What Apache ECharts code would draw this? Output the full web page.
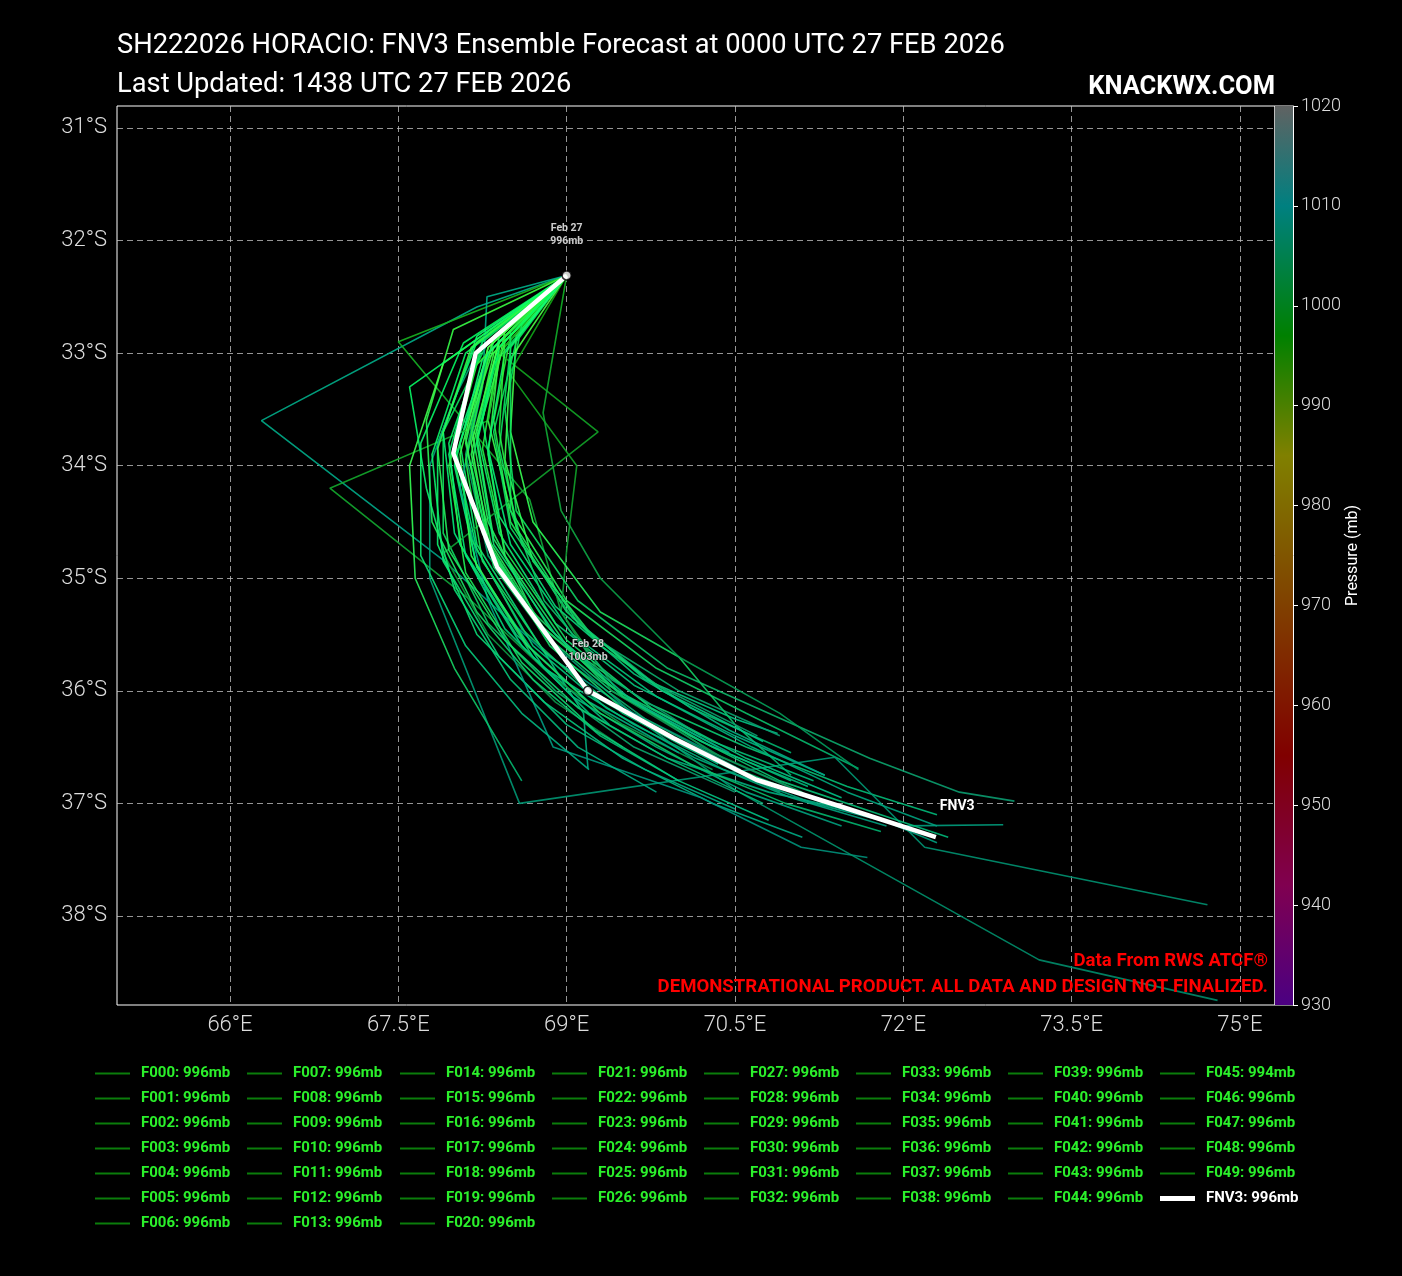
<!DOCTYPE html>
<html>
<head>
<meta charset="utf-8">
<script src="https://cdn.jsdelivr.net/npm/echarts@6/dist/echarts.min.js"></script>
<style>
html,body{margin:0;padding:0;background:#000;}
#c{width:1402px;height:1276px;}
</style>
</head>
<body>
<div id="c"></div>
<script>
// ---------------- DATA ----------------
const titleLine1 = 'SH222026 HORACIO: FNV3 Ensemble Forecast at 0000 UTC 27 FEB 2026';
const titleLine2 = 'Last Updated: 1438 UTC 27 FEB 2026';
const siteText = 'KNACKWX.COM';
const sourceText = 'Data From RWS ATCF®';
const disclaimerText = 'DEMONSTRATIONAL PRODUCT. ALL DATA AND DESIGN NOT FINALIZED.';

const lonTicks = [66, 67.5, 69, 70.5, 72, 73.5, 75];
const latTicks = [-31, -32, -33, -34, -35, -36, -37, -38];
const lonRange = [64.993, 75.312];
const latRange = [-38.791, -30.805];
const pressureRange = [930, 1020];
const pressureStep = 10;

const members = ['F000','F001','F002','F003','F004','F005','F006','F007','F008','F009',
  'F010','F011','F012','F013','F014','F015','F016','F017','F018','F019',
  'F020','F021','F022','F023','F024','F025','F026','F027','F028','F029',
  'F030','F031','F032','F033','F034','F035','F036','F037','F038','F039',
  'F040','F041','F042','F043','F044','F045','F046','F047','F048','F049'];
const memberMinPressure = [996,996,996,996,996,996,996,996,996,996,
  996,996,996,996,996,996,996,996,996,996,
  996,996,996,996,996,996,996,996,996,996,
  996,996,996,996,996,996,996,996,996,996,
  996,996,996,996,996,994,996,996,996,996];

// [lon (E), lat (negative = S)]
const tracks = [
  [[69.0,-32.31],[68.3,-32.95],[68.1,-33.8],[68.3,-34.7],[68.8,-35.5],[69.4,-36.0],[70.2,-36.45],[71.0,-36.8]],
  [[69.0,-32.31],[68.4,-32.9],[68.2,-33.7],[68.4,-34.6],[68.9,-35.4],[69.6,-35.95],[70.5,-36.4],[71.3,-36.75]],
  [[69.0,-32.31],[68.2,-32.59],[66.28,-33.6],[67.9,-34.84],[68.85,-35.7],[69.6,-36.2],[70.4,-36.6]],
  [[69.0,-32.31],[68.2,-33.0],[67.95,-33.9],[68.1,-34.8],[68.6,-35.6],[69.2,-36.2],[69.9,-36.6],[70.8,-36.9],[71.7,-37.1],[72.3,-37.35]],
  [[69.0,-32.31],[68.5,-32.85],[68.35,-33.6],[68.5,-34.5],[69.0,-35.3],[69.7,-35.9],[70.5,-36.25],[70.88,-36.38]],
  [[69.0,-32.31],[67.5,-32.9],[68.67,-34.3],[68.95,-35.3],[69.45,-36.0],[70.3,-36.55],[71.1,-36.9]],
  [[69.0,-32.31],[68.3,-33.0],[68.0,-33.95],[68.2,-34.9],[68.7,-35.7],[69.38,-36.3]],
  [[69.0,-32.31],[68.35,-32.9],[68.05,-33.8],[68.2,-34.7],[68.7,-35.5],[69.15,-36.2],[69.19,-36.69]],
  [[69.0,-32.31],[68.45,-32.8],[68.3,-33.6],[68.5,-34.4],[69.0,-35.2],[69.8,-35.8],[70.6,-36.2],[71.6,-36.69]],
  [[69.0,-32.31],[68.25,-33.05],[68.0,-34.0],[68.2,-34.9],[68.8,-35.8],[69.6,-36.3],[70.4,-36.7],[71.2,-37.0],[72.0,-37.2],[72.89,-37.19]],
  [[69.0,-32.31],[68.4,-33.0],[68.3,-33.6],[66.89,-34.2],[68.15,-35.2],[68.9,-35.9],[69.5,-36.3],[70.3,-36.7]],
  [[69.0,-32.31],[68.3,-32.9],[67.9,-33.7],[67.9,-34.6],[68.3,-35.4],[68.9,-36.0],[69.6,-36.5],[70.5,-36.9]],
  [[69.0,-32.31],[68.4,-33.0],[68.3,-33.9],[68.45,-34.8],[69.0,-35.6],[69.7,-36.1],[70.6,-36.5],[71.5,-36.85],[72.3,-37.1]],
  [[69.0,-32.31],[68.2,-32.9],[67.85,-33.8],[67.85,-34.7],[68.2,-35.5],[68.8,-36.1],[69.5,-36.6],[70.3,-37.0],[71.1,-37.3]],
  [[69.0,-32.31],[68.4,-33.0],[69.28,-33.7],[67.9,-34.78],[68.3,-35.5],[68.9,-36.1],[69.5,-36.5]],
  [[69.0,-32.31],[68.49,-33.18],[69.09,-34.0],[69.0,-34.75],[68.95,-35.3],[69.4,-36.0],[70.4,-36.6],[71.2,-36.95]],
  [[69.0,-32.31],[68.3,-32.8],[68.0,-33.4],[67.78,-34.0],[67.78,-35.0],[68.58,-37.0],[71.39,-36.59],[72.19,-37.39],[74.71,-37.9]],
  [[69.0,-32.31],[68.5,-32.95],[68.4,-33.85],[68.6,-34.7],[69.2,-35.5],[70.0,-36.0],[70.9,-36.4]],
  [[69.0,-32.31],[68.35,-32.85],[68.15,-33.65],[68.3,-34.5],[68.7,-35.3],[69.3,-35.9],[70.1,-36.4],[70.9,-36.8],[71.8,-37.1],[72.4,-37.3]],
  [[69.0,-32.31],[68.1,-33.0],[67.8,-33.9],[67.9,-34.85],[68.4,-35.7],[69.0,-36.3],[69.7,-36.7],[70.5,-37.05]],
  [[69.0,-32.31],[68.55,-32.85],[68.5,-33.7],[68.7,-34.5],[69.3,-35.3],[70.0,-35.7],[70.5,-36.3],[71.0,-36.75]],
  [[69.0,-32.31],[68.29,-32.5],[68.25,-33.3],[68.05,-34.2],[68.3,-35.2],[68.88,-36.5],[70.2,-36.95],[71.09,-37.39],[71.68,-37.48]],
  [[69.0,-32.31],[68.3,-33.0],[68.1,-33.9],[68.3,-34.8],[68.9,-35.6],[69.7,-36.3],[70.5,-36.88],[73.21,-38.39],[74.8,-38.75]],
  [[69.0,-32.31],[68.6,-32.75],[68.45,-33.5],[68.55,-34.4],[69.1,-35.2],[69.9,-35.8],[70.8,-36.2],[71.7,-36.6],[72.5,-36.9],[72.99,-36.98]],
  [[69.0,-32.31],[67.99,-32.79],[67.75,-33.6],[67.8,-34.5],[68.2,-35.3],[68.7,-35.9],[69.3,-36.4],[70.0,-36.8]],
  [[69.0,-32.31],[68.08,-32.91],[67.7,-33.8],[67.7,-34.8],[68.1,-35.6],[68.6,-36.2],[69.2,-36.7]],
  [[69.0,-32.31],[67.9,-33.09],[67.6,-34.0],[67.65,-35.0],[68.0,-35.8],[68.6,-36.8]],
  [[69.0,-32.31],[68.79,-33.53],[68.95,-34.4],[69.3,-35.0],[70.0,-35.7],[70.9,-36.2],[71.6,-36.7]],
  [[69.0,-32.31],[68.4,-32.95],[68.25,-33.85],[68.45,-34.75],[69.0,-35.55],[69.75,-36.15],[70.6,-36.6],[71.45,-36.95]],
  [[69.0,-32.31],[68.35,-33.1],[68.15,-34.0],[68.35,-34.9],[68.95,-35.7],[69.7,-36.25],[70.55,-36.7]],
  [[69.0,-32.31],[68.45,-32.9],[68.2,-33.75],[68.35,-34.65],[68.85,-35.45],[69.5,-36.05],[70.3,-36.5],[71.15,-36.85]],
  [[69.0,-32.31],[68.25,-32.95],[67.95,-33.8],[68.05,-34.7],[68.55,-35.5],[69.2,-36.1],[70.0,-36.55]],
  [[69.0,-32.31],[68.5,-33.05],[68.45,-33.95],[68.7,-34.85],[69.3,-35.6],[70.1,-36.15],[71.0,-36.55]],
  [[69.0,-32.31],[68.2,-32.85],[67.9,-33.7],[68.0,-34.6],[68.45,-35.45],[69.05,-36.05],[69.8,-36.5],[70.6,-36.9],[71.45,-37.2]],
  [[69.0,-32.31],[68.3,-33.05],[68.1,-33.95],[68.25,-34.85],[68.8,-35.65],[69.5,-36.2],[70.35,-36.65]],
  [[69.0,-32.31],[68.55,-32.9],[68.35,-33.7],[68.5,-34.55],[69.05,-35.35],[69.8,-35.95],[70.7,-36.4]],
  [[69.0,-32.31],[68.15,-32.95],[67.85,-33.85],[67.95,-34.75],[68.45,-35.55],[69.1,-36.15],[69.9,-36.6],[70.75,-37.0]],
  [[69.0,-32.31],[68.4,-32.85],[68.25,-33.6],[68.4,-34.45],[68.9,-35.25],[69.6,-35.85],[70.45,-36.35],[71.3,-36.75]],
  [[69.0,-32.31],[68.3,-32.95],[68.05,-33.9],[68.15,-34.8],[68.65,-35.6],[69.3,-36.2],[70.1,-36.65],[70.95,-37.0],[71.8,-37.25]],
  [[69.0,-32.31],[68.45,-33.0],[68.3,-33.85],[68.5,-34.7],[69.05,-35.5],[69.8,-36.05],[70.65,-36.5],[71.5,-36.9],[72.3,-37.2]],
  [[69.0,-32.31],[68.2,-33.1],[67.95,-34.0],[68.1,-34.95],[68.6,-35.75],[69.25,-36.35],[70.0,-36.8],[70.8,-37.15]],
  [[69.0,-32.31],[68.5,-32.8],[68.5,-33.6],[68.5,-34.4],[68.8,-35.2],[69.4,-35.9],[70.2,-36.4]],
  [[69.0,-32.31],[68.35,-32.95],[68.1,-33.75],[68.25,-34.6],[68.75,-35.4],[69.45,-36.0],[70.3,-36.45],[71.2,-36.8]],
  [[69.0,-32.31],[67.6,-33.3],[67.75,-34.2],[68.0,-35.1],[68.5,-35.9],[69.1,-36.5],[69.8,-36.9]],
  [[69.0,-32.31],[68.4,-32.9],[68.15,-33.8],[68.3,-34.65],[68.8,-35.45],[69.5,-36.05],[70.35,-36.5]],
  [[69.0,-32.31],[68.3,-33.0],[68.0,-33.85],[68.2,-34.75],[68.7,-35.6],[69.35,-36.15],[70.15,-36.6],[71.0,-36.95],[71.85,-37.2]],
  [[69.0,-32.31],[68.45,-32.85],[68.4,-33.7],[68.55,-34.55],[69.1,-35.4],[69.85,-36.0],[70.75,-36.45]],
  [[69.0,-32.31],[68.25,-32.9],[68.0,-33.75],[68.15,-34.65],[68.6,-35.45],[69.25,-36.05],[70.05,-36.5],[70.9,-36.9]],
  [[69.0,-32.31],[68.35,-33.0],[68.15,-33.9],[68.35,-34.8],[68.85,-35.6],[69.55,-36.2],[70.4,-36.65],[71.3,-37.0],[72.15,-37.25]],
  [[69.0,-32.31],[68.4,-32.95],[68.2,-33.8],[68.35,-34.7],[68.9,-35.5],[69.6,-36.1],[70.45,-36.55]]
];

const fnv3Name = 'FNV3';
const fnv3MinPressure = 996;
const fnv3Track = [[69.0,-32.31],[68.19,-33.0],[67.99,-33.89],[68.38,-34.9],[69.19,-36.0],[69.95,-36.42],[70.69,-36.79],[71.45,-37.03],[72.29,-37.3]];

const dayPoints = [[69.0,-32.31],[69.19,-36.0]];
const dayNames = ['Feb 27','Feb 28'];
const dayPressures = [996, 1003];

// ---------------- STYLE ----------------
const FONT = "Roboto,'Liberation Sans',sans-serif";
const bundlePalette = [
  ['#3dff3d','#22f060','#00b87a'],
  ['#00ff5a','#10ee70','#00a884'],
  ['#55ff44','#30ff55','#00b070'],
  ['#1aff70','#00e878','#009e7e'],
  ['#2ef02e','#20f050','#00c088'],
  ['#00e85c','#10e060','#0a9a70']
];
const outlierPalette = {
  2:['#00b38a','#00a888','#00907a'], 5:['#1ab81a','#10a838','#0a9a50'], 10:['#18b018','#12a830','#0a9a55'],
  14:['#13a813','#10a030','#0a9050'], 15:['#10a810','#10a030','#0a9060'], 16:['#00a878','#00a078','#009070'],
  21:['#00b08a','#00a888','#00907a'], 22:['#00c060','#00a070','#008a6a'], 27:['#10b020','#10a840','#009a60']
};
const colorbarStops = [
  [1020,'#606262'],[1010,'#008080'],[997,'#008000'],[985,'#808000'],
  [970,'#804000'],[955,'#800000'],[942,'#800050'],[930,'#4b0082']
];
const legendColumnLefts = [95, 247, 400, 552, 704, 856, 1008, 1160];
const legendColumnSizes = [7, 7, 7, 6, 6, 6, 6, 6];

// ---------------- CHART ----------------
const chart = echarts.init(document.getElementById('c'), null, {renderer: 'canvas', width: 1402, height: 1276});
const LG = echarts.graphic.LinearGradient;

const series = [];
const memberNames = members.map((m, i) => m + ': ' + memberMinPressure[i] + 'mb');
tracks.forEach((tr, i) => {
  const pal = outlierPalette[i] || bundlePalette[i % bundlePalette.length];
  series.push({
    type: 'line', name: memberNames[i], data: tr, xAxisIndex: 0, yAxisIndex: 0,
    symbol: 'none', silent: true, z: 2,
    lineStyle: {width: 1.6, opacity: 0.9,
      color: new LG(0, 0, 0, 1, [{offset: 0, color: pal[0]}, {offset: 0.5, color: pal[1]}, {offset: 1, color: pal[2]}])}
  });
});
const fnv3Label = fnv3Name + ': ' + fnv3MinPressure + 'mb';
series.push({
  type: 'line', name: fnv3Label, data: fnv3Track, xAxisIndex: 0, yAxisIndex: 0,
  symbol: 'none', z: 5, silent: true,
  lineStyle: {width: 4.5, color: '#ffffff'}, itemStyle: {color: '#ffffff'},
  endLabel: {show: true, formatter: fnv3Name, color: '#fff', fontFamily: FONT, fontSize: 14,
    fontWeight: 'bold', offset: [-4, -31], textBorderColor: '#000', textBorderWidth: 1.5}
});
series.push({
  type: 'scatter', name: 'days', xAxisIndex: 0, yAxisIndex: 0, z: 6, silent: true,
  data: dayPoints.map((p, i) => ({value: p, label: {formatter: dayNames[i] + '\n' + dayPressures[i] + 'mb'}})),
  symbol: 'circle', symbolSize: 9,
  itemStyle: {color: '#fff', borderColor: '#000', borderWidth: 1.5},
  label: {show: true, position: 'top', distance: 22, color: '#fff', fontFamily: FONT, fontSize: 10.5,
    fontWeight: 'bold', lineHeight: 13, textBorderColor: '#000', textBorderWidth: 1}
});
// colorbar
const span = pressureRange[1] - pressureRange[0];
series.push({type: 'bar', xAxisIndex: 1, yAxisIndex: 1, stack: 'cb', data: [pressureRange[0]],
  barWidth: '100%', silent: true, itemStyle: {color: 'rgba(0,0,0,0)'}});
series.push({type: 'bar', xAxisIndex: 1, yAxisIndex: 1, stack: 'cb', data: [span],
  barWidth: '100%', silent: true,
  itemStyle: {color: new LG(0, 0, 0, 1, colorbarStops.map(s => ({offset: (pressureRange[1] - s[0]) / span, color: s[1]})))}});

// legends
const legends = [];
let idx = 0;
const legendText = {color: '#2bf02b', fontFamily: FONT, fontSize: 15, fontWeight: 'bold', lineHeight: 19, padding: [0, 0, 0, 6]};
legendColumnSizes.forEach((n, c) => {
  legends.push({
    orient: 'vertical', left: legendColumnLefts[c], top: 1064, padding: 0, itemGap: 6,
    itemWidth: 35, itemHeight: 2, icon: 'rect', selectedMode: false,
    itemStyle: {color: '#0b7d0b', borderWidth: 0},
    textStyle: legendText,
    data: memberNames.slice(idx, idx + n)
  });
  idx += n;
});
legends.push({
  orient: 'vertical', left: legendColumnLefts[7], top: 1064 + 5 * 25, padding: 0,
  itemWidth: 35, itemHeight: 5, icon: 'rect', selectedMode: false,
  itemStyle: {color: '#ffffff', borderWidth: 0},
  textStyle: Object.assign({}, legendText, {color: '#ffffff'}),
  data: [fnv3Label]
});

const gridLine = {show: true, lineStyle: {color: 'rgba(200,200,200,0.75)', type: [6, 4], width: 1}};

chart.setOption({
  backgroundColor: '#000',
  animation: false,
  title: [
    {text: titleLine1, left: 117, top: 26, padding: 0, textStyle: {color: '#fff', fontFamily: FONT, fontSize: 27.3, fontWeight: 'normal', lineHeight: 40}},
    {text: titleLine2, left: 117, top: 65, padding: 0, textStyle: {color: '#fff', fontFamily: FONT, fontSize: 27.3, fontWeight: 'normal', lineHeight: 40}},
    {text: siteText, right: 127, top: 68, padding: 0, textStyle: {color: '#fff', fontFamily: FONT, fontSize: 25.5, fontWeight: 'bold', lineHeight: 40}},
    {text: sourceText, right: 134, top: 948, padding: 0, textStyle: {color: '#ff0000', fontFamily: FONT, fontSize: 18.6, fontWeight: 'bold', lineHeight: 26}},
    {text: disclaimerText, right: 134, top: 974, padding: 0, textStyle: {color: '#ff0000', fontFamily: FONT, fontSize: 18.6, fontWeight: 'bold', lineHeight: 26}}
  ],
  legend: legends,
  grid: [
    {left: 117, top: 106, width: 1158, height: 899, show: true, borderColor: '#fff', borderWidth: 1, backgroundColor: '#000'},
    {left: 1275, top: 106, width: 18, height: 899, show: true, borderColor: '#fff', borderWidth: 1}
  ],
  xAxis: [
    {type: 'value', gridIndex: 0, min: lonRange[0], max: lonRange[1],
      axisLine: {show: false}, axisTick: {show: false, customValues: lonTicks},
      axisLabel: {customValues: lonTicks, formatter: v => v + '°E', color: '#ddd', fontFamily: FONT, fontSize: 22, fontWeight: 300, margin: 9},
      splitLine: gridLine},
    {type: 'category', gridIndex: 1, data: ['cb'], show: false}
  ],
  yAxis: [
    {type: 'value', gridIndex: 0, min: latRange[0], max: latRange[1],
      axisLine: {show: false}, axisTick: {show: false, customValues: latTicks},
      axisLabel: {customValues: latTicks, formatter: v => (-v) + '°S', color: '#ddd', fontFamily: FONT, fontSize: 22, fontWeight: 300, margin: 10},
      splitLine: gridLine},
    {type: 'value', gridIndex: 1, position: 'right', min: pressureRange[0], max: pressureRange[1], interval: pressureStep,
      axisLine: {show: true, lineStyle: {color: '#fff'}},
      axisTick: {show: true, length: 5, lineStyle: {color: '#fff'}},
      axisLabel: {color: '#ddd', fontFamily: FONT, fontSize: 18, fontWeight: 300, margin: 8, formatter: v => String(v)},
      splitLine: {show: false},
      name: 'Pressure (mb)', nameLocation: 'middle', nameRotate: 90, nameGap: 52,
      nameTextStyle: {color: '#fff', fontFamily: FONT, fontSize: 16}}
  ],
  series: series
});
</script>
</body>
</html>
